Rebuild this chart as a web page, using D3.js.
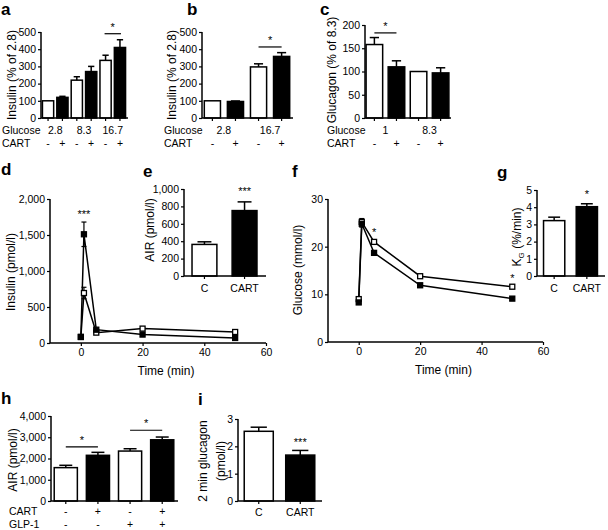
<!DOCTYPE html>
<html><head><meta charset="utf-8">
<script src="https://cdn.jsdelivr.net/npm/d3@7"></script>
<style>
body{margin:0;background:#fff;}
svg{font-family:"Liberation Sans",Arial,sans-serif;}
</style></head>
<body><svg id="c" width="608" height="530"></svg>
<script>
// ---------- DATA ----------
// Panel a
const aGlucose = ["2.8","8.3","16.7"];
const aCart = ["-","+","-","+","-","+"];
const aValues = [100,120,220,270,335,410];
const aErrors = [0,6,20,30,30,45];
const aTicks = [0,100,200,300,400,500];
// Panel b
const bGlucose = ["2.8","16.7"];
const bCart = ["-","+","-","+"];
const bValues = [100,96,297,358];
const bErrors = [0,3,18,22];
// Panel c
const cGlucose = ["1","8.3"];
const cCart = ["-","+","-","+"];
const cValues = [158,110,100,97];
const cErrors = [15,13,0,11];
const cTicks = [0,50,100,150,200];
// Panel d (insulin time course)
const dTime = [0,1,5,20,50];
const dControl = [85,694,144,200,153];
const dControlErr = [0,80,15,18,15];
const dCart = [83,1510,185,117,70];
const dCartErr = [0,170,15,10,8];
const dTicksY = [0,500,1000,1500,2000];
const dTicksX = [0,20,40,60];
// Panel e
const eCats = ["C","CART"];
const eValues = [363,752];
const eErrors = [30,100];
const eTicks = [0,200,400,600,800,1000];
// Panel f (glucose time course)
const fTime = [0,1,5,20,50];
const fControl = [9.0,25.2,21.0,13.8,11.6];
const fControlErr = [0.3,0.7,0.4,0.4,0.4];
const fCart = [8.3,24.8,18.7,11.9,9.1];
const fCartErr = [0.3,0.7,0.4,0.4,0.3];
const fTicksY = [0,10,20,30];
const fTicksX = [0,20,40,60];
// Panel g
const gCats = ["C","CART"];
const gValues = [3.22,4.03];
const gErrors = [0.2,0.17];
const gTicks = [0,1,2,3,4,5];
// Panel h
const hCart = ["-","+","-","+"];
const hGlp = ["-","-","+","+"];
const hValues = [1570,2150,2350,2880];
const hErrors = [110,140,110,130];
const hTicks = [0,1000,2000,3000,4000];
// Panel i
const iCats = ["C","CART"];
const iValues = [2.55,1.68];
const iErrors = [0.15,0.17];
const iTicks = [0,1,2,3];

// ---------- DRAW ----------
const svg = d3.select("#c");
const fill = ["#fff","#000"];
const fmt = d3.format(",");

function panelLetter(t,x,y){
  svg.append("text").attr("x",x).attr("y",y).attr("font-size",17).attr("font-weight","bold").text(t);
}
function yTitle(lines,x,y){
  const t = svg.append("text").attr("transform",`translate(${x},${y}) rotate(-90)`)
    .attr("text-anchor","middle").attr("font-size",12);
  lines.forEach((l,i)=>{
    const ts = t.append("tspan").attr("x",0).attr("dy", i===0? "0.35em":"1.45em");
    if (l==="KG"){
      ts.text("K");
      t.append("tspan").attr("font-size",8).attr("dy","3").text("G");
      t.append("tspan").attr("dy","-3").text(" (%/min)");
    } else ts.text(l);
  });
}
function yAxis(g,y,x,ticks){
  const ax = g.append("g").attr("transform",`translate(${x},0)`)
    .call(d3.axisLeft(y).tickValues(ticks).tickFormat(fmt).tickSize(3).tickPadding(2));
  ax.select(".domain").attr("stroke-width",1.5).attr("d",`M-0,${y(ticks[ticks.length-1])}V${y(0)}`);
  ax.selectAll(".tick line").attr("stroke-width",1.2);
  ax.selectAll("text").attr("font-size",10.5).attr("font-family","Liberation Sans, Arial").attr("fill","#000");
  return ax;
}
function barPanel(o){
  const g = svg.append("g");
  const x = d3.scaleBand().domain(d3.range(o.values.length)).range(o.xr)
    .paddingInner(o.pi).paddingOuter(o.po);
  const y = d3.scaleLinear().domain(o.yd).range(o.yr);
  g.selectAll("rect.bar").data(o.values).join("rect")
    .attr("x",(d,i)=>x(i)).attr("width",x.bandwidth())
    .attr("y",d=>y(d)).attr("height",d=>y(0)-y(d))
    .attr("fill",(d,i)=>fill[i%2]).attr("stroke","#000").attr("stroke-width",1.5);
  o.values.forEach((v,i)=>{
    const e = o.errors[i]; if(!e) return;
    const cx = x(i)+x.bandwidth()/2, cw = x.bandwidth()*0.28;
    g.append("line").attr("x1",cx).attr("x2",cx).attr("y1",y(v)).attr("y2",y(v+e)).attr("stroke","#000").attr("stroke-width",1.5);
    g.append("line").attr("x1",cx-cw).attr("x2",cx+cw).attr("y1",y(v+e)).attr("y2",y(v+e)).attr("stroke","#000").attr("stroke-width",1.5);
  });
  g.append("line").attr("x1",o.xr[0]).attr("x2",o.xr[1]+1).attr("y1",y(0)).attr("y2",y(0)).attr("stroke","#000").attr("stroke-width",1.5);
  o.values.forEach((v,i)=>{
    const cx = x(i)+x.bandwidth()/2;
    g.append("line").attr("x1",cx).attr("x2",cx).attr("y1",y(0)).attr("y2",y(0)+3).attr("stroke","#000").attr("stroke-width",1.2);
  });
  yAxis(g,y,o.xr[0],o.ticks);
  (o.sig||[]).forEach(s=>{
    const x1 = x(s.i)+x.bandwidth()/2 - (s.ext||0), x2 = x(s.j)+x.bandwidth()/2 + (s.ext||0);
    if (s.line){
      g.append("line").attr("x1",x1).attr("x2",x2).attr("y1",y(s.v)).attr("y2",y(s.v)).attr("stroke","#000").attr("stroke-width",1.2);
    }
    g.append("text").attr("x",(x1+x2)/2).attr("y",y(s.v)-3).attr("text-anchor","middle").attr("font-size",11).text(s.t);
  });
  (o.catLabels||[]).forEach(c=>{
    g.selectAll(null).data(c.labels).join("text")
      .attr("x",(d,i)=>{
        if (c.per===1) return x(i)+x.bandwidth()/2;
        return (x(i*c.per)+x(i*c.per+c.per-1)+x.bandwidth())/2;
      })
      .attr("y",c.y).attr("text-anchor","middle").attr("font-size",c.size||10.5).attr("fill","#000").text(d=>d);
    if (c.title) g.append("text").attr("x",c.tx).attr("y",c.y).attr("font-size",10.5).text(c.title);
  });
  return {x,y};
}

// a
panelLetter("a",1,15);
yTitle(["Insulin (% of 2.8)"],12,75);
barPanel({values:aValues,errors:aErrors,xr:[41,127],pi:0.22,po:0.1,yd:[0,500],yr:[118,32],ticks:aTicks,
  sig:[{i:4,j:5,v:490,t:"*",line:true,ext:1}],
  catLabels:[{labels:aGlucose,per:2,y:134,title:"Glucose",tx:2},{labels:aCart,per:1,y:147,title:"CART",tx:2}]});
// b
panelLetter("b",187,15);
yTitle(["Insulin (% of 2.8)"],172,75);
barPanel({values:bValues,errors:bErrors,xr:[202,292],pi:0.3,po:0.1,yd:[0,500],yr:[118,32],ticks:aTicks,
  sig:[{i:2,j:3,v:413,t:"*",line:true,ext:0}],
  catLabels:[{labels:bGlucose,per:2,y:134,title:"Glucose",tx:164},{labels:bCart,per:1,y:147,title:"CART",tx:164}]});
// c
panelLetter("c",320,15);
yTitle(["Glucagon (% of 8.3)"],332,70);
barPanel({values:cValues,errors:cErrors,xr:[365,450],pi:0.25,po:0.05,yd:[0,200],yr:[118,25],ticks:cTicks,
  sig:[{i:0,j:1,v:183,t:"*",line:true,ext:0}],
  catLabels:[{labels:cGlucose,per:2,y:134,title:"Glucose",tx:327},{labels:cCart,per:1,y:147,title:"CART",tx:327}]});

function linePanel(o){
  const g = svg.append("g");
  const x = d3.scaleLinear().domain([-10,60]).range(o.xr);
  const y = d3.scaleLinear().domain(o.yd).range(o.yr);
  const ax = g.append("g").attr("transform",`translate(0,${o.yr[0]})`)
    .call(d3.axisBottom(x).tickValues(o.ticksX).tickSize(3).tickPadding(3));
  ax.select(".domain").attr("stroke-width",1.5).attr("d",`M${o.xr[0]},0H${o.xr[1]}`);
  ax.selectAll(".tick line").attr("stroke-width",1.2);
  ax.selectAll("text").attr("font-size",10.5).attr("font-family","Liberation Sans, Arial").attr("fill","#000");
  yAxis(g,y,o.xr[0],o.ticksY);
  const line = d3.line().x((d,i)=>x(o.time[i])).y(d=>y(d));
  [[o.ctrl,o.ctrlErr],[o.cart,o.cartErr]].forEach(([vals,errs])=>{
    g.append("path").attr("d",line(vals)).attr("fill","none").attr("stroke","#000").attr("stroke-width",1.5);
    vals.forEach((v,i)=>{
      const cx = x(o.time[i]);
      if (errs[i]){
        g.append("line").attr("x1",cx).attr("x2",cx).attr("y1",y(v-errs[i])).attr("y2",y(v+errs[i])).attr("stroke","#000").attr("stroke-width",1.2);
        g.append("line").attr("x1",cx-2.5).attr("x2",cx+2.5).attr("y1",y(v+errs[i])).attr("y2",y(v+errs[i])).attr("stroke","#000").attr("stroke-width",1.2);
        g.append("line").attr("x1",cx-2.5).attr("x2",cx+2.5).attr("y1",y(v-errs[i])).attr("y2",y(v-errs[i])).attr("stroke","#000").attr("stroke-width",1.2);
      }
    });
  });
  [[o.ctrl,"#fff"],[o.cart,"#000"]].forEach(([vals,f])=>{
    g.selectAll(null).data(vals).join("rect")
      .attr("x",(d,i)=>x(o.time[i])-2.5).attr("y",d=>y(d)-2.5).attr("width",5).attr("height",5)
      .attr("fill",f).attr("stroke","#000").attr("stroke-width",1.3);
  });
  (o.sig||[]).forEach(s=>{
    g.append("text").attr("x",x(s.t)+(s.dx||0)).attr("y",y(s.v)).attr("text-anchor","middle").attr("font-size",11).text(s.s);
  });
  g.append("text").attr("x",(o.xr[0]+o.xr[1])/2+8).attr("y",o.yr[0]+32).attr("text-anchor","middle").attr("font-size",12).text("Time (min)");
}
panelLetter("d",1,175);
yTitle(["Insulin (pmol/l)"],11,272);
linePanel({xr:[50,266],yd:[0,2000],yr:[343,199],ticksX:dTicksX,ticksY:dTicksY,time:dTime,
  ctrl:dControl,ctrlErr:dControlErr,cart:dCart,cartErr:dCartErr,sig:[{t:1,v:1730,s:"***"}]});

panelLetter("e",143,177);
yTitle(["AIR (pmol/l)"],150,230);
barPanel({values:eValues,errors:eErrors,xr:[184,265],pi:0.38,po:0.2,yd:[0,1000],yr:[276,189],ticks:eTicks,
  sig:[{i:1,j:1,v:900,t:"***"}],
  catLabels:[{labels:eCats,per:1,y:292}]});

panelLetter("f",292,177);
yTitle(["Glucose (mmol/l)"],298,270);
linePanel({xr:[328,543],yd:[0,30],yr:[342,199],ticksX:fTicksX,ticksY:fTicksY,time:fTime,
  ctrl:fControl,ctrlErr:fControlErr,cart:fCart,cartErr:fCartErr,
  sig:[{t:5,v:22.2,s:"*"},{t:50,v:12.6,s:"*"}]});

panelLetter("g",497,178);
yTitle(["KG"],517,237);
barPanel({values:gValues,errors:gErrors,xr:[537,604],pi:0.35,po:0.2,yd:[0,5],yr:[276,190],ticks:gTicks,
  sig:[{i:1,j:1,v:4.35,t:"*"}],
  catLabels:[{labels:gCats,per:1,y:292}]});

panelLetter("h",1,404);
yTitle(["AIR (pmol/l)"],13,460);
barPanel({values:hValues,errors:hErrors,xr:[51,177],pi:0.28,po:0.1,yd:[0,4000],yr:[501,416],ticks:hTicks,
  sig:[{i:0,j:1,v:2550,t:"*",line:true,ext:0},{i:2,j:3,v:3330,t:"*",line:true,ext:0}],
  catLabels:[{labels:hCart,per:1,y:515,title:"CART",tx:9},{labels:hGlp,per:1,y:528,title:"GLP-1",tx:9}]});

panelLetter("i",198,405);
yTitle(["2 min glucagon","(pmol/l)"],203,461);
barPanel({values:iValues,errors:iErrors,xr:[238,321],pi:0.3,po:0.15,yd:[0,3],yr:[501,419],ticks:iTicks,
  sig:[{i:1,j:1,v:1.92,t:"***"}],
  catLabels:[{labels:iCats,per:1,y:516}]});
</script></body></html>
